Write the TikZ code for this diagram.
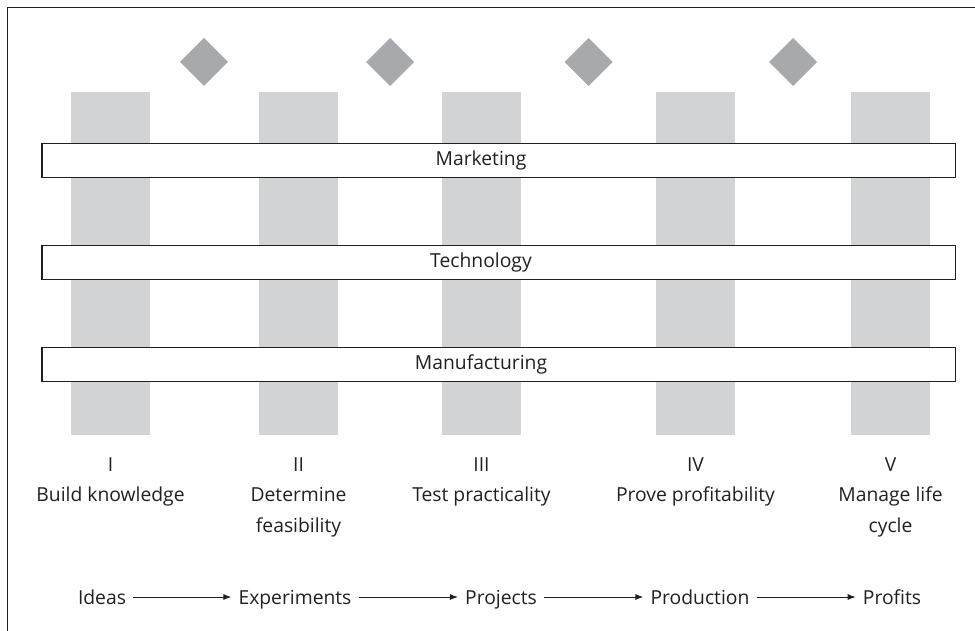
\documentclass[tikz,border=0pt]{standalone}
\usepackage{fontspec}
\setmainfont{Open Sans}
\usetikzlibrary{arrows.meta}
\definecolor{bargray}{RGB}{209,211,212}
\definecolor{gategray}{RGB}{167,169,172}
\definecolor{inkgray}{RGB}{35,31,32}
\tikzset{
  phasebar/.style={fill=bargray},
  gate/.style={fill=gategray},
  band/.style={draw=inkgray,line width=1.2pt,fill=white},
  lbl/.style={font=\fontsize{19.3}{30.7}\selectfont,text=inkgray,inner sep=0pt},
  outlbl/.style={lbl,inner xsep=7pt,text height=18pt,text depth=4pt},
  flow/.style={-{Latex[length=8pt,width=6pt]},line width=0.9pt,draw=inkgray},
}
\begin{document}
\begin{tikzpicture}[x=1pt,y=-1pt]
  \useasboundingbox (0,0) rectangle (975,631);
  \draw[line width=1pt,inkgray] (975,8) -- (7.5,8) -- (7.5,631);
  % phase bars
  \fill[phasebar] (71,92) rectangle (150,434.5);
  \fill[phasebar] (259,92) rectangle (338,434.5);
  \fill[phasebar] (442,92) rectangle (521,434.5);
  \fill[phasebar] (656,92) rectangle (735,434.5);
  \fill[phasebar] (851,92) rectangle (930,434.5);
  % gates
  \fill[gate] (204,38) -- (228,62) -- (204,86) -- (180,62) -- cycle;
  \fill[gate] (390,38) -- (414,62) -- (390,86) -- (366,62) -- cycle;
  \fill[gate] (588.5,38) -- (612.5,62) -- (588.5,86) -- (564.5,62) -- cycle;
  \fill[gate] (793,38) -- (817,62) -- (793,86) -- (769,62) -- cycle;
  % functions
  \draw[band] (42,143.5) rectangle (955.5,177.5);
  \draw[band] (42,245.5) rectangle (955.5,279.5);
  \draw[band] (42,347.5) rectangle (955.5,381.5);
  \node[lbl] (marketing) at (481,160.5) {Marketing};
  \node[lbl] (technology) at (481,262.5) {Technology};
  \node[lbl] (manufacturing) at (481,364.5) {Manufacturing};
  % phases
  \node[lbl,anchor=base] (num1) at (110.5,471) {I};
  \node[lbl,anchor=base] (num2) at (298.5,471) {II};
  \node[lbl,anchor=base] (num3) at (481.5,471) {III};
  \node[lbl,anchor=base] (num4) at (695.5,471) {IV};
  \node[lbl,anchor=base] (num5) at (890.5,471) {V};
  \node[lbl,anchor=base] (stage1) at (110.5,501) {Build knowledge};
  \node[lbl,anchor=base,align=center] (stage2) at (298.5,532) {Determine\\feasibility};
  \node[lbl,anchor=base] (stage3) at (481.5,501) {Test practicality};
  \node[lbl,anchor=base] (stage4) at (695.5,501) {Prove profitability};
  \node[lbl,anchor=base,align=center] (stage5) at (890.5,532) {Manage life\\cycle};
  % outputs
  \node[outlbl,anchor=base] (ideas) at (102,604) {Ideas};
  \node[outlbl,anchor=base] (experiments) at (295,604) {Experiments};
  \node[outlbl,anchor=base] (projects) at (501,604) {Projects};
  \node[outlbl,anchor=base] (production) at (700,604) {Production};
  \node[outlbl,anchor=base] (profits) at (892,604) {Profits};
  \draw[flow] (ideas) -- (experiments);
  \draw[flow] (experiments) -- (projects);
  \draw[flow] (projects) -- (production);
  \draw[flow] (production) -- (profits);
\end{tikzpicture}
\end{document}
